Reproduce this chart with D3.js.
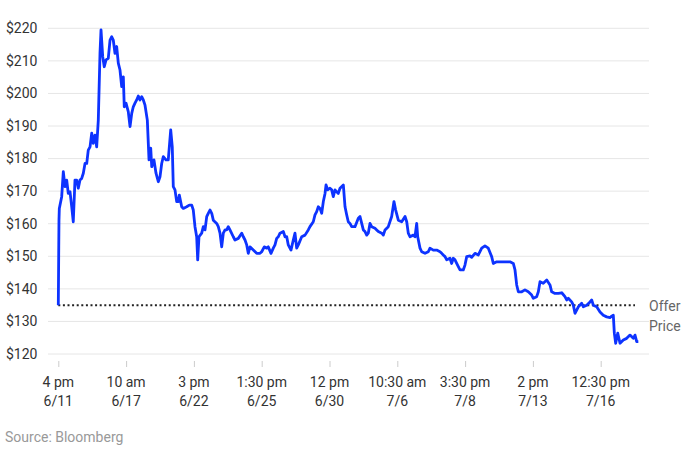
<!DOCTYPE html>
<html lang="en">
<head>
  <meta charset="UTF-8">
  <title>Share price since listing</title>
  <style>
    body { margin: 0; background: #fff; }
    svg text { font-family: Roboto, "Noto Sans", sans-serif; }
  </style>
</head>
<body>
  <svg id="chart" width="690" height="450"></svg>

  <script src="https://d3js.org/d3.v7.min.js"></script>
  <script>
    // session position (1 = one labelled tick) and price
    const times = [0, 0.01, 0.015, 0.05, 0.074, 0.099, 0.124, 0.147, 0.173, 0.198, 0.221, 0.246, 0.271, 0.295, 0.32, 0.345, 0.369, 0.394, 0.419, 0.442, 0.468, 0.493, 0.516, 0.541, 0.566, 0.59, 0.615, 0.63, 0.655, 0.678, 0.704, 0.737, 0.763, 0.788, 0.811, 0.836, 0.861, 0.885, 0.91, 0.935, 0.959, 0.973, 0.999, 1.032, 1.058, 1.083, 1.106, 1.131, 1.156, 1.18, 1.205, 1.23, 1.254, 1.279, 1.313, 1.338, 1.363, 1.378, 1.411, 1.441, 1.475, 1.5, 1.525, 1.549, 1.588, 1.622, 1.658, 1.681, 1.696, 1.721, 1.746, 1.77, 1.785, 1.82, 1.844, 1.894, 1.932,
      1.968, 1.991, 2.016, 2.041, 2.056, 2.075, 2.115, 2.139, 2.164, 2.189, 2.212, 2.237, 2.263, 2.286, 2.336, 2.36, 2.385, 2.41, 2.434, 2.459, 2.484, 2.507, 2.532, 2.581, 2.606, 2.655, 2.705, 2.729, 2.754, 2.779, 2.802, 2.827, 2.876, 2.926, 2.975, 3.0, 3.038, 3.074, 3.097, 3.137, 3.171, 3.196, 3.221, 3.245, 3.27, 3.319, 3.344, 3.369, 3.392, 3.432, 3.466, 3.491, 3.516, 3.54, 3.59, 3.639, 3.687, 3.712, 3.761, 3.786, 3.811, 3.835, 3.86, 3.885, 3.909, 3.934, 3.949, 3.973, 4.007, 4.032, 4.056,
      4.081, 4.106, 4.13, 4.155, 4.204, 4.229, 4.254, 4.277, 4.302, 4.327, 4.376, 4.425, 4.45, 4.475, 4.499, 4.524, 4.549, 4.572, 4.597, 4.622, 4.671, 4.696, 4.72, 4.77, 4.794, 4.819, 4.867, 4.917, 4.951, 4.976, 5.015, 5.065, 5.114, 5.139, 5.162, 5.187, 5.236, 5.261, 5.286, 5.301, 5.335, 5.36, 5.409, 5.457, 5.482, 5.531, 5.581, 5.63, 5.655, 5.678, 5.704, 5.729, 5.777, 5.802, 5.826, 5.851, 5.876, 5.9, 5.925, 5.973, 5.998, 6.024, 6.072, 6.097,
      6.146, 6.195, 6.245, 6.293, 6.342, 6.392, 6.416, 6.466, 6.515, 6.588, 6.662, 6.711, 6.736, 6.761, 6.785, 6.835, 6.883, 6.932, 6.982, 7.006, 7.056, 7.08, 7.105, 7.153, 7.204, 7.252, 7.277, 7.326, 7.375, 7.425, 7.473, 7.498, 7.522, 7.572, 7.596, 7.621, 7.67, 7.72, 7.743, 7.794, 7.842, 7.867, 7.891, 7.941, 7.99, 8.038, 8.088, 8.137, 8.162, 8.186, 8.201, 8.221, 8.251, 8.285, 8.333, 8.383, 8.432, 8.481, 8.506, 8.531, 8.555];

    const prices = [135, 161.1, 164.7, 168.3, 176.0, 171.4, 173.4, 169.3, 169.8, 165.2, 160.6, 173.4, 173.4, 170.9, 173.4, 173.9, 175.5, 178.5, 178.5, 182.6, 183.6, 187.8, 184.7, 187.2, 183.6, 191.8, 212.3, 219.5, 211.3, 208.2, 210.3, 210.8, 216.4, 217.4, 216.4, 212.3, 214.4, 209.3, 207.2, 202.1, 205.1, 195.9, 197.0, 194.4, 189.8, 193.9, 195.9, 197.0, 198.0, 199.2, 198.0, 199.0, 198.0, 196.4, 191.8, 179.6, 183.2, 177.5, 179.6, 175.5, 172.9, 174.4, 178.5, 180.6, 179.6, 179.6, 188.8, 183.6, 171.4, 170.4, 166.8, 166.8, 168.8, 165.2, 164.7, 165.2, 165.7,
      165.7, 164.2, 159.1, 156.0, 148.9, 156.0, 157.1, 159.1, 158.1, 162.2, 163.2, 164.2, 163.2, 161.1, 160.1, 159.1, 157.1, 152.9, 157.1, 158.1, 158.1, 159.1, 158.1, 156.0, 155.0, 155.5, 157.1, 156.0, 155.0, 153.5, 150.9, 152.9, 151.9, 150.9, 150.9, 151.4, 152.9, 152.5, 152.9, 150.9, 152.5, 153.5, 155.5, 156.0, 157.1, 157.6, 156.0, 156.0, 153.5, 151.9, 155.0, 157.1, 152.5, 153.5, 156.0, 156.5, 158.1, 159.1, 160.6, 162.7, 163.7, 165.2, 164.7, 163.2, 166.8, 169.3, 171.9, 170.4, 170.9, 170.4, 168.3,
      170.4, 169.8, 169.3, 170.9, 171.9, 165.2, 162.7, 160.6, 160.1, 159.1, 159.1, 161.7, 162.2, 160.1, 158.1, 157.6, 156.5, 157.1, 160.1, 159.1, 158.6, 158.1, 157.6, 157.1, 156.5, 158.1, 159.1, 162.2, 166.8, 164.2, 161.1, 160.6, 162.2, 160.6, 157.1, 156.0, 156.5, 156.0, 160.1, 156.0, 152.5, 151.4, 150.9, 151.4, 152.5, 151.9, 151.9, 151.4, 150.9, 150.4, 149.9, 148.9, 149.4, 147.8, 149.4, 148.9, 147.8, 146.8, 145.8, 145.8, 147.3, 149.9, 150.1, 149.7,
      150.9, 150.4, 152.5, 153.2, 152.5, 149.9, 147.8, 148.3, 148.3, 148.3, 148.3, 147.8, 145.8, 141.2, 139.1, 139.1, 139.7, 139.1, 138.1, 137.1, 137.6, 139.1, 142.2, 141.7, 142.7, 141.2, 139.1, 138.6, 138.6, 138.8, 137.6, 136.6, 137.1, 136.0, 135.0, 132.5, 134.5, 135.6, 134.5, 135.0, 136.0, 136.6, 135.0, 134.5, 132.9, 131.9, 131.4, 131.2, 131.6, 131.9, 126.4, 123.3, 126.4, 123.3, 124.3, 124.8, 125.8, 124.8, 125.8, 123.8, 123.8];

    const yTicks = [120, 130, 140, 150, 160, 170, 180, 190, 200, 210, 220];
    const xTimes = ["4 pm", "10 am", "3 pm", "1:30 pm", "12 pm", "10:30 am", "3:30 pm", "2 pm", "12:30 pm"];
    const xDates = ["6/11", "6/17", "6/22", "6/25", "6/30", "7/6", "7/8", "7/13", "7/16"];
    const offerPrice = 135;

    const svg = d3.select("#chart");

    const x = d3.scaleLinear().domain([0, 8]).range([58.3, 600.7]);
    const y = d3.scaleLinear().domain([120, 220]).range([354, 28.3]);

    // grid + y labels
    svg.append("g")
      .selectAll("line")
      .data(yTicks)
      .join("line")
      .attr("x1", 48)
      .attr("x2", 649)
      .attr("y1", d => y(d))
      .attr("y2", d => y(d))
      .attr("stroke", "#e6e6e6")
      .attr("stroke-width", 1);

    svg.append("g")
      .selectAll("text")
      .data(yTicks)
      .join("text")
      .attr("x", 6)
      .attr("y", d => y(d))
      .attr("dy", "0.35em")
      .attr("font-size", 14)
      .attr("fill", "#333")
      .text(d => "$" + d);

    // x axis
    const xAxis = svg.append("g")
      .attr("transform", `translate(0, 361)`)
      .call(d3.axisBottom(x)
        .tickValues(d3.range(xTimes.length))
        .tickSize(6)
        .tickFormat(""));
    xAxis.select(".domain").remove();
    xAxis.selectAll(".tick line").attr("stroke", "#ccc");

    const labels = svg.append("g")
      .selectAll("text")
      .data(xTimes)
      .join("text")
      .attr("x", (d, i) => x(i))
      .attr("text-anchor", "middle")
      .attr("font-size", 14)
      .attr("fill", "#333");
    labels.append("tspan").attr("x", (d, i) => x(i)).attr("y", 387).text(d => d);
    labels.append("tspan").attr("x", (d, i) => x(i)).attr("y", 406).text((d, i) => xDates[i]);

    // offer price
    svg.append("line")
      .attr("x1", x(0))
      .attr("x2", 635)
      .attr("y1", y(offerPrice))
      .attr("y2", y(offerPrice))
      .attr("stroke", "#222")
      .attr("stroke-width", 2)
      .attr("stroke-dasharray", "2,2.6");

    svg.append("text")
      .attr("x", 649)
      .attr("y", y(offerPrice) + 6)
      .attr("font-size", 14)
      .attr("fill", "#666")
      .text("Offer");
    svg.append("text")
      .attr("x", 649)
      .attr("y", y(offerPrice) + 26)
      .attr("font-size", 14)
      .attr("fill", "#666")
      .text("Price");

    // price line
    const line = d3.line()
      .x((d, i) => x(times[i]))
      .y(d => y(d));

    svg.append("path")
      .datum(prices)
      .attr("d", line)
      .attr("fill", "none")
      .attr("stroke", "#0d33ff")
      .attr("stroke-width", 2.8)
      .attr("stroke-linejoin", "round");

    svg.append("text")
      .attr("x", 5)
      .attr("y", 442)
      .attr("font-size", 14)
      .attr("fill", "#999")
      .text("Source: Bloomberg");
  </script>
</body>
</html>
